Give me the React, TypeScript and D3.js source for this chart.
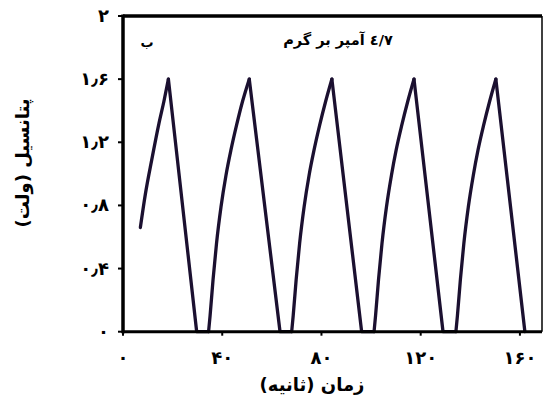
import React from "react";
import * as d3 from "d3";

const timeSec = [
  7.0, 9.0, 11.6, 14.5, 16.5, 18.3, 29.7,
  34.5, 35.1, 36.3, 37.7, 39.5, 41.5, 43.5, 45.8, 48.2, 50.9, 63.3,
  68.0, 68.6, 69.8, 71.2, 73.0, 75.0, 77.0, 79.3, 81.7, 84.2, 96.2,
  101.2, 101.8, 103.0, 104.4, 106.2, 108.2, 110.1, 112.4, 114.8, 117.3, 129.0,
  134.2, 134.8, 136.0, 137.4, 139.2, 141.2, 143.1, 145.4, 147.8, 150.3, 162.0,
];
const potentialV = [
  0.66, 0.87, 1.09, 1.32, 1.46, 1.6, 0,
  0, 0.1, 0.33, 0.56, 0.79, 0.99, 1.15, 1.31, 1.46, 1.6, 0,
  0, 0.1, 0.33, 0.56, 0.79, 0.99, 1.15, 1.31, 1.46, 1.6, 0,
  0, 0.1, 0.33, 0.56, 0.79, 0.99, 1.15, 1.31, 1.46, 1.6, 0,
  0, 0.1, 0.33, 0.56, 0.79, 0.99, 1.15, 1.31, 1.46, 1.6, 0,
];
const xTicks = [0, 40, 80, 120, 160];
const xTickLabels = ["۰", "۴۰", "۸۰", "۱۲۰", "۱۶۰"];
const yTicks = [0, 0.4, 0.8, 1.2, 1.6, 2];
const yTickLabels = ["۰", "۰٫۴", "۰٫۸", "۱٫۲", "۱٫۶", "۲"];
const titleText = "٤/٧ آمپر بر گرم";
const panelLabel = "ب";
const xTitle = "زمان (ثانیه)";
const yTitle = "پتانسیل (ولت)";

type P = [number, number];

export default function App() {
  const W = 544, H = 398;
  const left = 123, right = 542, top = 16, bottom = 331.7;
  const x = d3.scaleLinear().domain([0, 168.9]).range([left, right]);
  const y = d3.scaleLinear().domain([0, 2]).range([bottom, top]);
  const pts: P[] = timeSec.map((t, i) => [t, potentialV[i]]);

  // split into charging (rising, smooth) and discharging (falling, straight) runs
  const rises: P[][] = [];
  const falls: P[][] = [];
  let cur: P[] = [pts[0]];
  let rising = true;
  for (let i = 1; i < pts.length; i++) {
    const up = pts[i][1] > pts[i - 1][1] || (pts[i][1] === pts[i - 1][1] && rising);
    if (up === rising) {
      cur.push(pts[i]);
    } else {
      (rising ? rises : falls).push(cur);
      cur = [pts[i - 1], pts[i]];
      rising = up;
    }
  }
  (rising ? rises : falls).push(cur);

  const riseLine = d3
    .line<P>()
    .x((d) => x(d[0]))
    .y((d) => y(d[1]))
    .curve(d3.curveMonotoneX);
  const fallLine = d3
    .line<P>()
    .x((d) => x(d[0]))
    .y((d) => y(d[1]))
    .curve(d3.curveLinear);

  const font = "'DejaVu Sans', sans-serif";
  const ink = "#000";
  const lineColor = "#1b1030";
  return (
    <svg
      width={W}
      height={H}
      style={{ position: "absolute", left: 0, top: 0, background: "#fff" }}
      fontFamily={font}
    >
      <rect x={0} y={0} width={W} height={H} fill="#fff" />
      <line x1={left} x2={right} y1={top} y2={top} stroke={ink} strokeWidth={3.5} />
      <line x1={right} x2={right} y1={top} y2={bottom} stroke={ink} strokeWidth={1.5} />
      {rises.map((seg, i) => (
        <path
          key={"r" + i}
          d={riseLine(seg) || ""}
          fill="none"
          stroke={lineColor}
          strokeWidth={3.3}
          strokeLinejoin="round"
          strokeLinecap="round"
        />
      ))}
      {falls.map((seg, i) => (
        <path
          key={"f" + i}
          d={fallLine(seg) || ""}
          fill="none"
          stroke={lineColor}
          strokeWidth={3.3}
          strokeLinejoin="round"
          strokeLinecap="round"
        />
      ))}
      <line x1={left} x2={left} y1={top - 1.5} y2={bottom + 1.5} stroke={ink} strokeWidth={3.5} />
      <line x1={left} x2={right} y1={bottom} y2={bottom} stroke={ink} strokeWidth={3} />
      {yTicks.map((v, i) => (
        <g key={"y" + i}>
          <line x1={left - 5} x2={left} y1={y(v)} y2={y(v)} stroke={ink} strokeWidth={2} />
          <text
            x={109}
            y={y(v) + 6}
            textAnchor="end"
            fontSize={18}
            fontWeight="bold"
            fill={ink}
          >
            {yTickLabels[i]}
          </text>
        </g>
      ))}
      {xTicks.map((v, i) => (
        <g key={"x" + i}>
          <line x1={x(v)} x2={x(v)} y1={bottom} y2={bottom + 4} stroke={ink} strokeWidth={2} />
          <text
            x={x(v)}
            y={364}
            textAnchor="middle"
            fontSize={18}
            fontWeight="bold"
            fill={ink}
          >
            {xTickLabels[i]}
          </text>
        </g>
      ))}
      <text
        x={338}
        y={45}
        textAnchor="middle"
        fontSize={14.5}
        fontWeight="bold"
        fill={ink}
        direction="rtl"
      >
        {titleText}
      </text>
      <text x={147} y={47} textAnchor="middle" fontSize={13} fontWeight="bold" fill={ink}>
        {panelLabel}
      </text>
      <text
        x={312}
        y={391}
        textAnchor="middle"
        fontSize={18}
        fontWeight="bold"
        fill={ink}
        direction="rtl"
      >
        {xTitle}
      </text>
      <text
        transform={`translate(29,163) rotate(-90)`}
        textAnchor="middle"
        fontSize={18}
        fontWeight="bold"
        fill={ink}
        direction="rtl"
      >
        {yTitle}
      </text>
    </svg>
  );
}
